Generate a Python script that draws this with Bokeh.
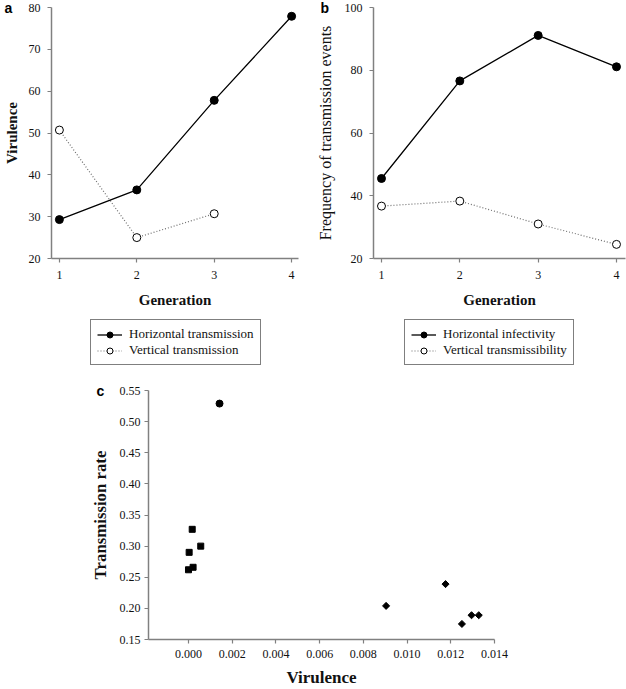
from bokeh.plotting import figure
from bokeh.layouts import column, row
from bokeh.models import (Range1d, FixedTicker, PrintfTickFormatter, Legend,
                          LegendItem)
from bokeh.embed import file_html
from bokeh.resources import INLINE
import numpy as np

# ---------------- data ----------------
generation = [1, 2, 3, 4]
gen_ticks = [1, 2, 3, 4]

a_horizontal = [29.3, 36.4, 57.8, 77.9]
a_vertical_gen = [1, 2, 3]
a_vertical = [50.7, 25.0, 30.7]
a_yticks = [20, 30, 40, 50, 60, 70, 80]
a_labels = ["Horizontal transmission", "Vertical transmission"]

b_horizontal = [45.5, 76.6, 91.1, 81.1]
b_vertical = [36.7, 38.3, 31.0, 24.5]
b_yticks = [20, 40, 60, 80, 100]
b_labels = ["Horizontal infectivity", "Vertical transmissibility"]

c_circle_x = [0.00142]
c_circle_y = [0.529]
c_square_x = [0.00017, 0.00003, 0.00056, 0.00000, 0.00021]
c_square_y = [0.327, 0.290, 0.300, 0.262, 0.266]
c_diamond_x = [0.00904, 0.01176, 0.01251, 0.01295, 0.01328]
c_diamond_y = [0.204, 0.239, 0.175, 0.189, 0.189]
c_xticks = [0.000, 0.002, 0.004, 0.006, 0.008, 0.010, 0.012, 0.014]
c_yticks = [0.15, 0.20, 0.25, 0.30, 0.35, 0.40, 0.45, 0.50, 0.55]

# ---------------- style ----------------
SERIF = "Liberation Serif"
SANS = "Liberation Sans"
AXIS_GRAY = "#808080"
DOT_GRAY = "#6e6e6e"


def style(p):
    p.xgrid.visible = False
    p.ygrid.visible = False
    p.outline_line_color = None
    p.background_fill_color = "white"
    p.border_fill_color = "white"
    for ax in (p.xaxis[0], p.yaxis[0]):
        ax.axis_line_color = AXIS_GRAY
        ax.axis_line_width = 1.5
        ax.major_tick_line_color = AXIS_GRAY
        ax.major_tick_line_width = 1.2
        ax.major_tick_out = 4
        ax.major_tick_in = 0
        ax.minor_tick_line_color = None
        ax.major_label_text_font = SERIF
        ax.major_label_text_font_size = "12px"
        ax.major_label_text_color = "#111111"
        ax.axis_label_text_font = SERIF
        ax.axis_label_text_color = "#111111"


def panel_title(p, txt, offset):
    p.title.text = txt
    p.title.align = "left"
    p.title.vertical_align = "bottom"
    p.title.offset = offset
    p.title.standoff = -17
    p.title.text_font = SANS
    p.title.text_font_style = "bold"
    p.title.text_font_size = "14px"
    p.title.text_color = "black"


def draw_series(p, x_h, y_h, x_v, y_v):
    lv = p.line(x_v, y_v, line_color=DOT_GRAY, line_width=1.2, line_dash="1 2")
    lh = p.line(x_h, y_h, line_color="black", line_width=1.3)
    sv = p.scatter(x_v, y_v, marker="circle", size=8, fill_color="white",
                   line_color="black", line_width=1)
    sh = p.scatter(x_h, y_h, marker="circle", size=8, fill_color="black",
                   line_color="black")
    return lh, sh, lv, sv


def legend_figure(labels, x_h, y_h, x_v, y_v, left):
    # strip holding the legend box; its own copies of the series lie outside
    # this strip's ranges, so only the legend glyphs show
    f = figure(width=313, height=59, output_backend="svg", toolbar_location=None,
               x_range=Range1d(100, 101), y_range=Range1d(1000, 1001),
               x_axis_type=None, y_axis_type=None, min_border=0)
    f.outline_line_color = None
    f.xgrid.visible = False
    f.ygrid.visible = False
    lh, sh, lv, sv = draw_series(f, x_h, y_h, x_v, y_v)
    f.add_layout(Legend(
        items=[LegendItem(label=labels[0], renderers=[lh, sh]),
               LegendItem(label=labels[1], renderers=[lv, sv])],
        location=(left, 7), border_line_color="black", border_line_width=1.5,
        background_fill_color="white", background_fill_alpha=1.0,
        label_text_font=SERIF, label_text_font_size="13px",
        label_text_color="#111111", glyph_width=25, glyph_height=15,
        label_height=15, label_standoff=7, padding=6, spacing=0, margin=0))
    return f


# ---------------- panel a ----------------
pa = figure(width=313, height=313, output_backend="svg", toolbar_location=None,
            x_range=Range1d(0.898, 4.089), y_range=Range1d(20, 80),
            min_border_left=48, min_border_right=15, min_border_top=7,
            min_border_bottom=55)
style(pa)
pa.xaxis.ticker = FixedTicker(ticks=gen_ticks)
pa.yaxis.ticker = FixedTicker(ticks=a_yticks)
pa.xaxis.axis_label = "Generation"
pa.yaxis.axis_label = "Virulence"
pa.xaxis.axis_label_text_font_style = "bold"
pa.yaxis.axis_label_text_font_style = "bold"
pa.xaxis.axis_label_text_font_size = "15px"
pa.yaxis.axis_label_text_font_size = "15px"
pa.xaxis.major_label_standoff = 8
pa.yaxis.major_label_standoff = 7
pa.xaxis.axis_label_standoff = 10
pa.yaxis.axis_label_standoff = 6
draw_series(pa, generation, a_horizontal, a_vertical_gen, a_vertical)
panel_title(pa, "a", -47)
leg_a = legend_figure(a_labels, generation, a_horizontal, a_vertical_gen,
                      a_vertical, 39)

# ---------------- panel b ----------------
pb = figure(width=313, height=313, output_backend="svg", toolbar_location=None,
            x_range=Range1d(0.898, 4.115), y_range=Range1d(20, 100),
            min_border_left=60, min_border_right=1, min_border_top=7,
            min_border_bottom=55)
style(pb)
pb.xaxis.ticker = FixedTicker(ticks=gen_ticks)
pb.yaxis.ticker = FixedTicker(ticks=b_yticks)
pb.xaxis.axis_label = "Generation"
pb.yaxis.axis_label = "Frequency of transmission events"
pb.xaxis.axis_label_text_font_style = "bold"
pb.yaxis.axis_label_text_font_style = "normal"
pb.xaxis.axis_label_text_font_size = "15px"
pb.yaxis.axis_label_text_font_size = "16px"
pb.xaxis.major_label_standoff = 8
pb.yaxis.major_label_standoff = 7
pb.xaxis.axis_label_standoff = 10
pb.yaxis.axis_label_standoff = 8
draw_series(pb, generation, b_horizontal, generation, b_vertical)
panel_title(pb, "b", -53)
leg_b = legend_figure(b_labels, generation, b_horizontal, generation,
                      b_vertical, 31)

# ---------------- panel c ----------------
pc = figure(width=626, height=317, output_backend="svg", toolbar_location=None,
            x_range=Range1d(-0.00183, 0.014), y_range=Range1d(0.15, 0.55),
            min_border_left=148, min_border_right=132, min_border_top=18,
            min_border_bottom=50)
style(pc)
pc.xaxis.ticker = FixedTicker(ticks=c_xticks)
pc.yaxis.ticker = FixedTicker(ticks=c_yticks)
pc.xaxis.formatter = PrintfTickFormatter(format="%.3f")
pc.yaxis.formatter = PrintfTickFormatter(format="%.2f")
pc.xaxis.axis_label = "Virulence"
pc.yaxis.axis_label = "Transmission rate"
pc.xaxis.axis_label_text_font_style = "bold"
pc.yaxis.axis_label_text_font_style = "bold"
pc.xaxis.axis_label_text_font_size = "17px"
pc.yaxis.axis_label_text_font_size = "16.8px"
pc.xaxis.major_label_standoff = 6
pc.yaxis.major_label_standoff = 4
pc.xaxis.axis_label_standoff = 7
pc.yaxis.axis_label_standoff = 7

pc.scatter(c_circle_x, c_circle_y, marker="circle", size=7,
           fill_color="black", line_color="black")
pc.scatter(c_square_x, c_square_y, marker="square", size=6,
           fill_color="black", line_color="black")
pc.scatter(c_diamond_x, c_diamond_y, marker="square", size=5, angle=np.pi / 4,
           fill_color="black", line_color="black")
panel_title(pc, "c", -52)

layout = column(row(column(pa, leg_a, spacing=0), column(pb, leg_b, spacing=0),
                    spacing=0), pc, spacing=0)
open("out.html", "w").write(file_html(layout, INLINE))
